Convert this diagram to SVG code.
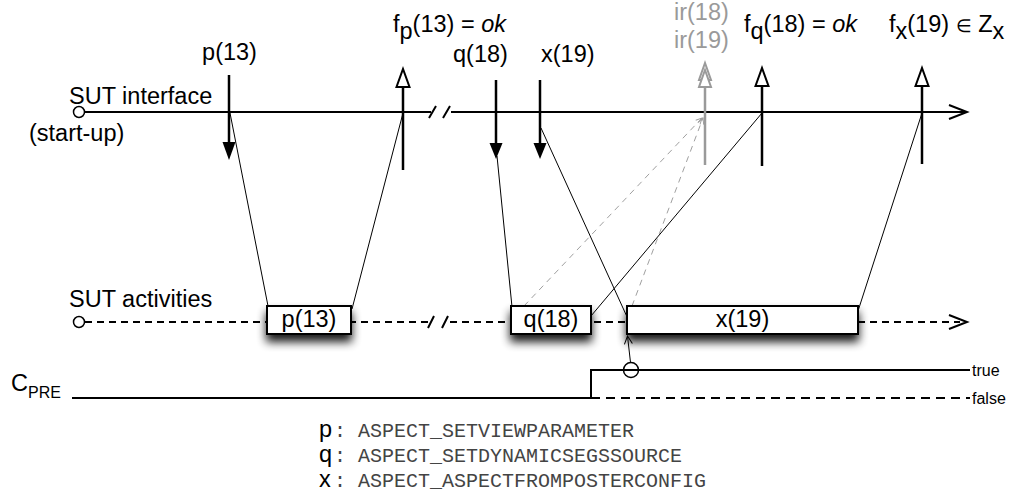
<svg xmlns="http://www.w3.org/2000/svg" width="1019" height="496" viewBox="0 0 1019 496">
<style>
.lbl{font-family:"Liberation Sans",Arial,sans-serif;font-size:23.5px;fill:#000}
.sm{font-family:"Liberation Sans",Arial,sans-serif;font-size:16px;fill:#000}
.mono{font-family:"Liberation Mono","Courier New",monospace;font-size:20px;fill:#444}
.gtxt{fill:#9a9a9a}
.ax{stroke:#000;stroke-width:2;fill:none}
.dash{stroke:#000;stroke-width:2;fill:none;stroke-dasharray:7 5}
.thin{stroke:#000;stroke-width:1;fill:none}
.gdash{stroke:#a0a0a0;stroke-width:1;fill:none;stroke-dasharray:6 5}
.box{fill:#fff;stroke:#000;stroke-width:2;filter:url(#sh)}
.shaft{stroke:#000;stroke-width:2.5;fill:none}
.gshaft{stroke:#9a9a9a;stroke-width:2.5;fill:none}
.open{fill:#fff;stroke:#000;stroke-width:2}
.gopen{fill:#fff;stroke:#9a9a9a;stroke-width:2}
.fill{fill:#000;stroke:none}
.node{fill:#fff;stroke:#000;stroke-width:1.5}
</style>
<defs>
<filter id="sh" x="-20%" y="-50%" width="140%" height="250%">
<feGaussianBlur in="SourceAlpha" stdDeviation="5"/>
<feOffset dy="7" result="b"/>
<feComponentTransfer><feFuncA type="linear" slope="0.9"/></feComponentTransfer>
<feMerge><feMergeNode/><feMergeNode in="SourceGraphic"/></feMerge>
</filter>
<marker id="gtip" viewBox="0 0 8 8" refX="7" refY="4" markerWidth="8" markerHeight="8" markerUnits="userSpaceOnUse" orient="auto">
<path d="M1,1 L7,4 L1,7" fill="none" stroke="#a0a0a0" stroke-width="1"/>
</marker>
<marker id="btip" viewBox="0 0 10 10" refX="9" refY="5" markerWidth="10" markerHeight="10" markerUnits="userSpaceOnUse" orient="auto">
<path d="M1,1 L9,5 L1,9" fill="none" stroke="#000" stroke-width="1"/>
</marker>
</defs>

<g id="sut-interface">
<path class="ax" d="M85,112 H431 M451,112 H966"/>
<path class="ax" d="M429,118 L436,106 M443,118 L450,106"/>
<path class="ax" d="M949,105 L967,112 L949,119"/>
<circle class="node" cx="79" cy="112" r="5.5"/>
<text class="lbl" x="69" y="104">SUT interface</text>
<text class="lbl" x="29" y="141">(start-up)</text>
</g>

<g id="sut-activities">
<path class="dash" d="M85,322 H429 M450,322 H960"/>
<path class="ax" d="M428,328 L434,316 M442,328 L448,316"/>
<path class="ax" d="M949,315 L967,322 L949,329"/>
<circle class="node" cx="79" cy="322" r="5.5"/>
<text class="lbl" x="69" y="307">SUT activities</text>
</g>

<g id="cpre">
<path class="ax" d="M72,398 H591 V370 H970"/>
<path class="ax" d="M591,398 H970" stroke-dasharray="9 6"/>
<circle cx="631" cy="370" r="7.5" fill="none" stroke="#000" stroke-width="1.5"/>
<text class="lbl" x="11" y="391">C<tspan font-size="16" dy="7">PRE</tspan></text>
<text class="sm" x="972" y="376">true</text>
<text class="sm" x="972" y="404">false</text>
</g>

<g id="connectors">
<path class="thin" d="M230,113 L268,306"/>
<path class="thin" d="M403,113 L352,309"/>
<path class="thin" d="M497,156 L512,307"/>
<path class="thin" d="M541,128 L628,319"/>
<path class="thin" d="M762,113 L591,316"/>
<path class="thin" d="M922,113 L858,311"/>
<path class="gdash" d="M524,306 L702,118" marker-end="url(#gtip)"/>
<path class="gdash" d="M632,306 L703,118" marker-end="url(#gtip)"/>
<path class="thin" d="M630.5,362.5 L627.5,336" marker-end="url(#btip)"/>
</g>

<g id="box-p13">
<rect class="box" x="267" y="306" width="84" height="28"/>
<text class="lbl" x="309" y="327" text-anchor="middle">p(13)</text>
</g>
<g id="box-q18">
<rect class="box" x="511" y="306" width="80" height="28"/>
<text class="lbl" x="551" y="327" text-anchor="middle">q(18)</text>
</g>
<g id="box-x19">
<rect class="box" x="627" y="306" width="231" height="28"/>
<text class="lbl" x="742.5" y="327" text-anchor="middle">x(19)</text>
</g>

<g id="ev-p13">
<path class="shaft" d="M229,75 V143"/>
<polygon class="fill" points="222.5,142 235.5,142 229,160"/>
<text class="lbl" x="229.5" y="60" text-anchor="middle">p(13)</text>
</g>
<g id="ev-fp13">
<path class="shaft" d="M403,87 V170"/>
<polygon class="open" points="396.5,87 409.5,87 403,69"/>
<text class="lbl" x="393" y="32">f<tspan dy="7">p</tspan><tspan dy="-7">(13) = </tspan><tspan font-style="italic">ok</tspan></text>
</g>
<g id="ev-q18">
<path class="shaft" d="M496,80 V144"/>
<polygon class="fill" points="489.5,143 502.5,143 496,159"/>
<text class="lbl" x="453" y="62">q(18)</text>
</g>
<g id="ev-x19">
<path class="shaft" d="M540,80 V144"/>
<polygon class="fill" points="533.5,143 546.5,143 540,159"/>
<text class="lbl" x="541" y="62">x(19)</text>
</g>
<g id="ev-ir">
<path class="gshaft" d="M705,86 V165"/>
<polygon class="gopen" points="699,80 711,80 705,63"/>
<polygon class="gopen" points="699,87 711,87 705,70"/>
<text class="lbl gtxt" x="674" y="20">ir(18)</text>
<text class="lbl gtxt" x="674" y="48">ir(19)</text>
</g>
<g id="ev-fq18">
<path class="shaft" d="M762,86 V166"/>
<polygon class="open" points="755.5,86 768.5,86 762,68"/>
<text class="lbl" x="744" y="32">f<tspan dy="7">q</tspan><tspan dy="-7">(18) = </tspan><tspan font-style="italic">ok</tspan></text>
</g>
<g id="ev-fx19">
<path class="shaft" d="M922,86 V164"/>
<polygon class="open" points="915.5,86 928.5,86 922,68"/>
<text class="lbl" x="889" y="32">f<tspan dy="7">x</tspan><tspan dy="-7">(19) </tspan><tspan font-size="18">∈</tspan><tspan> Z</tspan><tspan dy="7">x</tspan></text>
</g>

<g id="legend">
<text class="lbl" font-size="20" x="319" y="437">p</text>
<text class="mono" x="334" y="437">: ASPECT_SETVIEWPARAMETER</text>
<text class="lbl" font-size="20" x="319" y="462">q</text>
<text class="mono" x="334" y="462">: ASPECT_SETDYNAMICSEGSSOURCE</text>
<text class="lbl" font-size="20" x="319" y="487">x</text>
<text class="mono" x="334" y="487">: ASPECT_ASPECTFROMPOSTERCONFIG</text>
</g>
</svg>
